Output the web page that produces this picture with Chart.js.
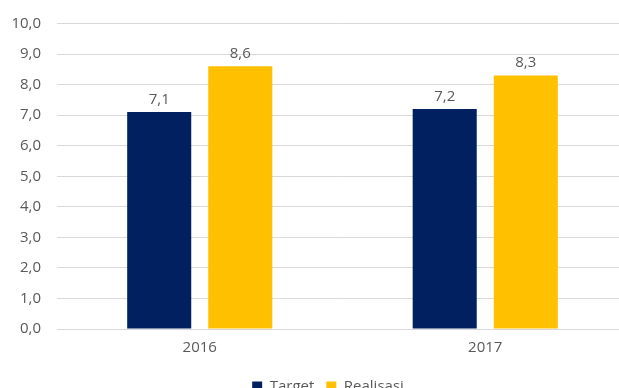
<!DOCTYPE html>
<html>
<head>
<meta charset="utf-8">
<script src="https://cdn.jsdelivr.net/npm/chart.js@4"></script>
<style>
  html, body { margin: 0; padding: 0; background: #fff; overflow: hidden; }
  #wrap { width: 628px; height: 404px; }
</style>
</head>
<body>
<div id="wrap"><canvas id="chart" width="628" height="404"></canvas></div>
<script>
// Target vs realisasi per tahun
const years = ['2016', '2017'];
const targetValues = [7.1, 7.2];
const realisasiValues = [8.6, 8.3];
const yTicks = [0, 1, 2, 3, 4, 5, 6, 7, 8, 9, 10];

const fmt = v => v.toFixed(1).replace('.', ',');
const textColor = '#595959';
const fontFamily = '"Open Sans", sans-serif';
const fontSize = 15;

// Simple value labels above each bar
const barLabels = {
    id: 'barLabels',
    afterDatasetsDraw(chart) {
        const ctx = chart.ctx;
        ctx.save();
        ctx.font = fontSize + 'px ' + fontFamily;
        ctx.fillStyle = textColor;
        ctx.textAlign = 'center';
        ctx.textBaseline = 'bottom';
        chart.data.datasets.forEach((ds, i) => {
            chart.getDatasetMeta(i).data.forEach((bar, j) => {
                ctx.fillText(fmt(ds.data[j]), bar.x, bar.y - 5);
            });
        });
        ctx.restore();
    }
};

// Nudge the legend a bit to the right
const legendShift = {
    id: 'legendShift',
    afterLayout(chart) {
        if (chart.legend) chart.legend.left += 28;
    }
};

new Chart(document.getElementById('chart'), {
    type: 'bar',
    data: {
        labels: years,
        datasets: [
            { label: 'Target', data: targetValues, backgroundColor: '#002060' },
            { label: 'Realisasi', data: realisasiValues, backgroundColor: '#FFC000' }
        ]
    },
    options: {
        responsive: false,
        animation: false,
        categoryPercentage: 0.568,
        barPercentage: 0.79,
        layout: { padding: { top: 4, right: 0, left: 0, bottom: 0 } },
        scales: {
            x: {
                grid: { display: false, drawTicks: false },
                border: { color: '#d9d9d9' },
                ticks: { color: textColor, font: { family: fontFamily, size: fontSize }, padding: 10 }
            },
            y: {
                min: 0,
                max: 10,
                afterFit(scale) { scale.width = 57; },
                afterBuildTicks(scale) { scale.ticks = yTicks.map(v => ({ value: v })); },
                grid: { color: '#d9d9d9', drawTicks: false },
                border: { display: false },
                ticks: {
                    color: textColor,
                    font: { family: fontFamily, size: fontSize, lineHeight: 1 },
                    padding: 16,
                    callback: v => fmt(v)
                }
            }
        },
        plugins: {
            legend: {
                position: 'bottom',
                labels: {
                    color: textColor,
                    font: { family: fontFamily, size: fontSize },
                    boxWidth: 10,
                    boxHeight: 10,
                    padding: 12
                }
            },
            tooltip: { enabled: false }
        }
    },
    plugins: [barLabels, legendShift]
});
</script>
</body>
</html>
